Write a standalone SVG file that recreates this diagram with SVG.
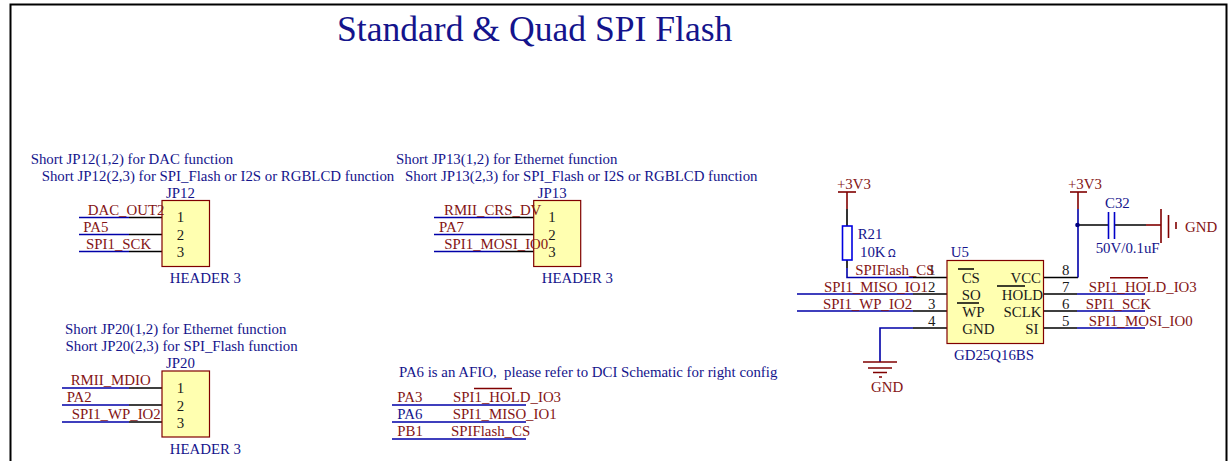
<svg xmlns="http://www.w3.org/2000/svg" width="1230" height="461" viewBox="0 0 1230 461">
<style>
text{font-family:"Liberation Serif","Times New Roman",serif;font-size:14.85px;white-space:pre}
.b{fill:#14148c}.r{fill:#841414}.k{fill:#1a1a1a}
.e{text-anchor:end}
.w,.wb,.wk,.wr{fill:none;stroke-width:1.6}
.wb{stroke:#0000a8}.wk{stroke:#000}.wr{stroke:#800000}
.box{fill:#ffffb0;stroke:#800000;stroke-width:1.2}
.bar{stroke:#800000;stroke-width:1.6;fill:none}
</style>
<rect width="1230" height="461" fill="#fff"/>
<path d="M10.500 461V4.500H1226.500V461" fill="none" stroke="#000" stroke-width="2"/>
<text x="337" y="41" style="font-size:35.6px" class="b">Standard &amp; Quad SPI Flash</text>

<g id="connectors">
<path class="wb" d="M79 217.500H129M79 234.500H129M79 251.500H129"/>
<path class="wk" d="M129 217.500H162M129 234.500H162M129 251.500H162"/>
<path class="wb" d="M434 217.500H500M434 234.500H500M434 251.500H500"/>
<path class="wk" d="M500 217.500H534M500 234.500H534M500 251.500H534"/>
<path class="wb" d="M62 388H129M62 405H129M62 422H129"/>
<path class="wk" d="M129 388H162M129 405H162M129 422H162"/>
<path class="wb" d="M392 405H526M392 422H526M392 439H526"/>
<path class="wr" d="M847 192V209"/>
<path class="wk" d="M847 209V226M847 260V268"/>
<path class="wb" d="M847 268V277.500H913M797 294H913M797 311H913M880 362V328H913"/>
<path class="wk" d="M913 277.500H947M913 294H947M913 311H947M913 328H947"/>
<path class="wk" d="M1043 277.500H1078M1043 294H1077M1043 311H1077M1043 328H1077"/>
<path class="wb" d="M1077 294H1145M1077 311H1145M1077 328H1145M1078 277.500V209"/>
<path class="wr" d="M1078 192V209"/>
<path class="wk" d="M1078 225H1108M1115 225H1146"/>
<path class="wr" d="M1146 225H1161"/>
<circle cx="1077.500" cy="225" r="2.300" fill="#000080"/>
</g>

<g id="JP12">
<rect class="box" x="162" y="200.500" width="47.500" height="66"/>
<text class="b" x="166" y="197.700">JP12</text>
<text class="b" x="169.700" y="283">HEADER 3</text>
<text class="k" x="176.700" y="222.300">1</text><text class="k" x="176.700" y="239.700">2</text><text class="k" x="176.700" y="256.700">3</text>
<text class="r" x="87.700" y="215">DAC_OUT2</text><text class="r" x="83.300" y="231.700">PA5</text><text class="r" x="86" y="249">SPI1_SCK</text>
<text class="b" x="30.700" y="164">Short JP12(1,2) for DAC function</text>
<text class="b" x="41.700" y="180.700">Short JP12(2,3) for SPI_Flash or I2S or RGBLCD function</text>
</g>

<g id="JP13">
<rect class="box" x="533.700" y="200.500" width="47" height="66"/>
<text class="b" x="537.700" y="197.700">JP13</text>
<text class="b" x="541.700" y="283">HEADER 3</text>
<text class="k" x="548.300" y="222.300">1</text><text class="k" x="548.300" y="239.700">2</text><text class="k" x="548.300" y="256.700">3</text>
<text class="r" x="444" y="215">RMII_CRS_DV</text><text class="r" x="439" y="231.700">PA7</text><text class="r" x="444.300" y="249">SPI1_MOSI_IO0</text>
<text class="b" x="396" y="164">Short JP13(1,2) for Ethernet function</text>
<text class="b" x="405" y="180.700">Short JP13(2,3) for SPI_Flash or I2S or RGBLCD function</text>
</g>

<g id="JP20">
<rect class="box" x="162" y="371" width="47.500" height="66"/>
<text class="b" x="166" y="367.700">JP20</text>
<text class="b" x="169.700" y="454">HEADER 3</text>
<text class="k" x="176.700" y="393.300">1</text><text class="k" x="176.700" y="410.700">2</text><text class="k" x="176.700" y="427.700">3</text>
<text class="r" x="70.700" y="385">RMII_MDIO</text><text class="r" x="66.700" y="401.700">PA2</text><text class="r" x="71.700" y="419.300">SPI1_WP_IO2</text>
<text class="b" x="65" y="334">Short JP20(1,2) for Ethernet function</text>
<text class="b" x="65.500" y="350.700">Short JP20(2,3) for SPI_Flash function</text>
</g>

<g id="net-table">
<text class="b" x="399" y="377.300">PA6 is an AFIO,  please refer to DCI Schematic for right config</text>
<text class="r" x="397.300" y="402">PA3</text><text class="b" x="397.300" y="418.700">PA6</text><text class="r" x="397.300" y="436">PB1</text>
<text class="r" x="453" y="402">SPI1_HOLD_IO3</text><text class="r" x="452.700" y="418.700">SPI1_MISO_IO1</text><text class="r" x="451" y="436">SPIFlash_CS</text>
<path class="bar" d="M474 388.500H512"/>
</g>

<g id="U5">
<rect class="box" x="947" y="260.500" width="96.500" height="83"/>
<text class="b" x="950.700" y="257.300">U5</text>
<text class="b" x="954" y="360">GD25Q16BS</text>
<text class="k" x="961.700" y="283">CS</text><text class="k" x="961.700" y="300">SO</text><text class="k" x="962.300" y="317">WP</text><text class="k" x="962.300" y="333.500">GND</text>
<text class="k e" x="1041" y="283">VCC</text><text class="k e" x="1043" y="300">HOLD</text><text class="k e" x="1041.500" y="317">SCLK</text><text class="k e" x="1038.500" y="333.500">SI</text>
<path d="M958 269H974M957 303H979M997 286H1025" stroke="#000" stroke-width="1.600" fill="none"/>
<text class="k" x="928" y="274.500">1</text><text class="k" x="928" y="291.500">2</text><text class="k" x="928" y="308.500">3</text><text class="k" x="928" y="325.500">4</text>
<text class="k" x="1062" y="275">8</text><text class="k" x="1062" y="292">7</text><text class="k" x="1062" y="309">6</text><text class="k" x="1062" y="326">5</text>
<text class="r" x="855.300" y="274.700">SPIFlash_CS</text>
<text class="r" x="824" y="291.700">SPI1_MISO_IO1</text>
<text class="r" x="823" y="308.700">SPI1_WP_IO2</text>
<text class="r" x="1088.700" y="292">SPI1_HOLD_IO3</text>
<text class="r" x="1085.700" y="309">SPI1_SCK</text>
<text class="r" x="1088.700" y="326">SPI1_MOSI_IO0</text>
<path class="bar" d="M1110 277.700H1148"/>
</g>

<g id="R21">
<rect x="842.500" y="226" width="9.500" height="34" fill="none" stroke="#0000e0" stroke-width="1.600"/>
<text class="b" x="857.700" y="239">R21</text>
<text class="b" x="860" y="257">10K</text>
<text class="b" x="888" y="257" style="font-family:'DejaVu Sans',sans-serif;font-size:10px">Ω</text>
</g>

<g id="C32">
<path d="M1108.500 212V239M1114.500 212V239" stroke="#0000c8" stroke-width="1.600" fill="none"/>
<text class="b" x="1105" y="208">C32</text>
<text class="b" x="1095.700" y="253">50V/0.1uF</text>
</g>

<g id="power-3V3-left">
<path class="bar" d="M838 192H856"/>
<text class="r" x="837" y="189">+3V3</text>
</g>
<g id="power-3V3-right">
<path class="bar" d="M1070 192H1087"/>
<text class="r" x="1068" y="189">+3V3</text>
</g>
<g id="gnd-right">
<path class="bar" d="M1161 209V243M1168.500 215V238M1176 222V229"/>
<text class="r" x="1185" y="232">GND</text>
</g>
<g id="gnd-left">
<path class="bar" d="M863 362H897M868 368H892M873 372.500H887M879 377H882"/>
<text class="r" x="871" y="392">GND</text>
</g>
</svg>
